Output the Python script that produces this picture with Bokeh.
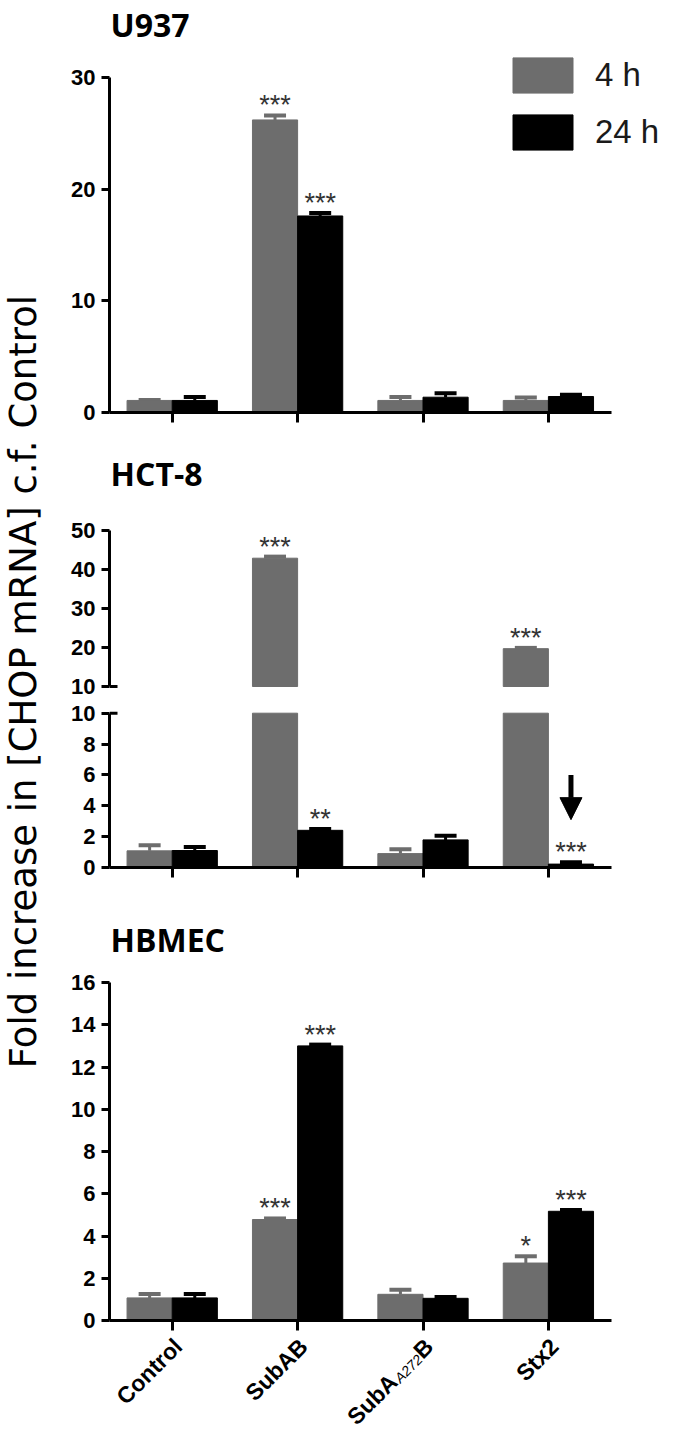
import numpy as np
from bokeh.plotting import figure
from bokeh.layouts import row, column
from bokeh.models import (ColumnDataSource, FixedTicker, Whisker, TeeHead, Legend,
                          LegendItem, Label, Arrow, NormalHead, Range1d)
from bokeh.core.properties import value
from bokeh.embed import file_html
from bokeh.resources import INLINE

# ---------------- data ----------------
categories = ["Control", "SubAB", "SubAA272B", "Stx2"]
mutant_label_parts = ["SubA", "A272", "B"]
series_names = ["4 h", "24 h"]
y_title = "Fold increase in [CHOP mRNA] c.f. Control"

u937_mean_4h = [1.08, 26.2, 1.08, 1.08]
u937_err_4h = [0.05, 0.40, 0.30, 0.27]
u937_mean_24h = [1.08, 17.6, 1.37, 1.43]
u937_err_24h = [0.30, 0.26, 0.36, 0.15]
u937_sig_4h = ["", "***", "", ""]
u937_sig_24h = ["", "***", "", ""]
u937_ticks = [0, 10, 20, 30]

hct8_mean_4h = [1.08, 42.9, 0.90, 19.7]
hct8_err_4h = [0.36, 0.40, 0.28, 0.20]
hct8_mean_24h = [1.10, 2.41, 1.79, 0.22]
hct8_err_24h = [0.23, 0.08, 0.26, 0.12]
hct8_sig_4h = ["", "***", "", "***"]
hct8_sig_24h = ["", "**", "", "***"]
hct8_upper_ticks = [10, 20, 30, 40, 50]
hct8_lower_ticks = [0, 2, 4, 6, 8, 10]

hbmec_mean_4h = [1.07, 4.78, 1.24, 2.72]
hbmec_err_4h = [0.19, 0.05, 0.22, 0.32]
hbmec_mean_24h = [1.07, 13.0, 1.05, 5.17]
hbmec_err_24h = [0.19, 0.06, 0.06, 0.06]
hbmec_sig_4h = ["", "***", "", "*"]
hbmec_sig_24h = ["", "***", "", "***"]
hbmec_ticks = [0, 2, 4, 6, 8, 10, 12, 14, 16]

# ---------------- style / layout constants ----------------
GRAY = "#6d6d6d"
BLACK = "#000000"
BAR_W = 0.36
DODGE = 0.18
PXU = 125.4                 # pixels per category unit
LEFT_FIG_W = 49
PANEL_W = 615
BORDER_L = 60
X_END = -0.5 + (PANEL_W - BORDER_L) / PXU
TICK_FONT = "Liberation Sans"
STAR_FONT = "Liberation Sans"
TITLE_FONT = "Open Sans"
STAR_GAP = 10               # px between error top and star baseline

idx = np.arange(len(categories), dtype=float)


def make_panel(height, y0, y1, ticks, ybounds, border_bottom, with_xaxis=True):
    p = figure(width=PANEL_W, height=height,
               x_range=Range1d(-0.5, X_END), y_range=Range1d(y0, y1),
               output_backend="svg", toolbar_location=None,
               x_axis_location="below" if with_xaxis else None,
               min_border_left=BORDER_L, min_border_right=0,
               min_border_top=0, min_border_bottom=border_bottom)
    p.outline_line_color = None
    p.grid.visible = False
    p.background_fill_color = "white"
    p.yaxis.ticker = FixedTicker(ticks=ticks)
    p.yaxis.bounds = ybounds
    p.yaxis.major_tick_out = 8
    p.yaxis.major_tick_in = 0
    p.yaxis.major_label_standoff = 6
    for ax in p.axis:
        ax.axis_line_width = 3
        ax.axis_line_color = "black"
        ax.major_tick_line_width = 3
        ax.major_tick_line_color = "black"
        ax.minor_tick_line_color = None
        ax.major_label_text_font = TICK_FONT
        ax.major_label_text_font_style = "bold"
        ax.major_label_text_font_size = "22px"
        ax.major_label_text_color = "black"
    if with_xaxis:
        p.xaxis.ticker = FixedTicker(ticks=list(idx))
        p.xaxis.bounds = (-0.5, 3.5)
        p.xaxis.major_tick_out = 10
        p.xaxis.major_tick_in = 0
        p.xaxis.major_label_overrides = {int(i): "" for i in idx}
        p.xaxis.major_label_text_font_size = "1px"
        p.xaxis.major_label_standoff = 0
    return p


def draw_series(p, scale, means, errs, sigs, offset, color, lo=0.0, hi=np.inf):
    m = np.asarray(means, float)
    e = np.asarray(errs, float)
    s = np.asarray(sigs)
    show = m > lo
    xs = idx + offset
    bars = ColumnDataSource(dict(x=xs[show], bottom=np.full(show.sum(), lo),
                                 top=np.minimum(m, hi)[show]))
    r = p.vbar(x="x", bottom="bottom", top="top", width=BAR_W, source=bars,
               fill_color=color, line_color=color, line_width=1)
    ends = show & (m <= hi)
    err_src = ColumnDataSource(dict(base=xs[ends], lower=m[ends], upper=(m + e)[ends]))
    p.add_layout(Whisker(base="base", lower="lower", upper="upper", source=err_src,
                         dimension="height", line_color=color, line_width=3,
                         lower_head=None,
                         upper_head=TeeHead(size=22, line_width=4, line_color=color)))
    star = ends & (s != "")
    star_src = ColumnDataSource(dict(x=xs[star], y=(m + e)[star] + STAR_GAP / scale,
                                     t=s[star]))
    p.text(x="x", y="y", text="t", source=star_src, text_align="center",
           text_baseline="alphabetic", text_font=value(STAR_FONT),
           text_font_size=value("27px"), text_color="#333333")
    return r


def add_title(p, text, y):
    p.add_layout(Label(x=-0.5, y=y, text=text, text_font=TITLE_FONT,
                       text_font_style="bold", text_font_size="32px",
                       text_align="left", text_baseline="alphabetic",
                       text_color="black", x_offset=1))


def break_mark(p):
    p.segment(x0=-0.5, y0=10, x1=-0.5 + 8 / PXU, y1=10, line_width=3, line_color="black")


# ---------------- U937 ----------------
S1 = 11.167
f1 = make_panel(442, 0, 412 / S1, u937_ticks, (0, 30), 30)
r4 = draw_series(f1, S1, u937_mean_4h, u937_err_4h, u937_sig_4h, -DODGE, GRAY)
r24 = draw_series(f1, S1, u937_mean_24h, u937_err_24h, u937_sig_24h, DODGE, BLACK)
add_title(f1, "U937", (420 - 32) / S1)
legend = Legend(items=[LegendItem(label=series_names[0], renderers=[r4]),
                       LegendItem(label=series_names[1], renderers=[r24])],
                location=(396, 258), orientation="vertical",
                glyph_width=75, glyph_height=44, label_height=44,
                label_standoff=15, spacing=13, padding=0, margin=0,
                border_line_color=None, background_fill_alpha=0,
                label_text_font="Liberation Sans", label_text_font_size="33px",
                label_text_color="#1a1a1a")
f1.add_layout(legend)

# ---------------- HCT-8 (broken axis) ----------------
S2 = 3.9
F2_BOTTOM = 708            # page y where upper panel ends
f2 = make_panel(F2_BOTTOM - 450, 10 - (F2_BOTTOM - 694) / S2, 10 + 244 / S2,
                hct8_upper_ticks, (10, 50), 0, with_xaxis=False)
draw_series(f2, S2, hct8_mean_4h, hct8_err_4h, hct8_sig_4h, -DODGE, GRAY, lo=10)
draw_series(f2, S2, hct8_mean_24h, hct8_err_24h, hct8_sig_24h, DODGE, BLACK, lo=10)
break_mark(f2)
add_title(f2, "HCT-8", 10 + (694 - 481) / S2)

S3 = 15.43
f3 = make_panel(875 - F2_BOTTOM + 30, 0, (875 - F2_BOTTOM) / S3, hct8_lower_ticks, (0, 10), 30)
draw_series(f3, S3, hct8_mean_4h, hct8_err_4h, hct8_sig_4h, -DODGE, GRAY, hi=10)
draw_series(f3, S3, hct8_mean_24h, hct8_err_24h, hct8_sig_24h, DODGE, BLACK, hi=10)
break_mark(f3)
f3.add_layout(Arrow(end=NormalHead(size=22, fill_color="black", line_color="black"),
                    x_start=idx[3] + DODGE, y_start=6.0, x_end=idx[3] + DODGE, y_end=3.1,
                    line_width=5, line_color="black"))

# ---------------- HBMEC ----------------
S4 = 21.125
HB_BOTTOM = 14
f4 = make_panel(423 + HB_BOTTOM, 0, 423 / S4, hbmec_ticks, (0, 16), HB_BOTTOM)
draw_series(f4, S4, hbmec_mean_4h, hbmec_err_4h, hbmec_sig_4h, -DODGE, GRAY)
draw_series(f4, S4, hbmec_mean_24h, hbmec_err_24h, hbmec_sig_24h, DODGE, BLACK)
add_title(f4, "HBMEC", (1328 - 947) / S4)

# ---------------- category labels (rotated, below HBMEC axis) ----------------
LAB_H = 1429 - (442 + (F2_BOTTOM - 450) + (875 - F2_BOTTOM + 30) + 423 + HB_BOTTOM)
f5 = figure(width=PANEL_W, height=LAB_H, x_range=Range1d(-0.5, X_END),
            y_range=Range1d(-(HB_BOTTOM + LAB_H), -HB_BOTTOM),   # pixels below axis line
            x_axis_location=None, y_axis_location=None,
            output_backend="svg", toolbar_location=None,
            min_border_left=BORDER_L, min_border_right=0, min_border_top=0, min_border_bottom=0)
f5.outline_line_color = None
f5.grid.visible = False
ANG = np.pi / 4
c, s_ = np.cos(ANG), np.sin(ANG)
AX = 6 / PXU          # anchor shift right of tick
AY = -22              # anchor depth below axis line (px)
FS = 23
plain = [i for i, t in enumerate(categories) if i != 2]
f5.text(x=[idx[i] + AX for i in plain], y=[AY] * len(plain),
        text=[categories[i] for i in plain], angle=ANG,
        text_align="right", text_baseline="middle",
        text_font=value(TICK_FONT), text_font_style="bold",
        text_font_size=value(f"{FS}px"), text_color="black")
wB = 0.722 * FS
wSub = 2.335 * 14
comp = [(mutant_label_parts[2], 0.0, 0.0, "bold", f"{FS}px"),
        (mutant_label_parts[1], wB, 4.0, "italic", "14px"),
        (mutant_label_parts[0], wB + wSub + 1, 0.0, "bold", f"{FS}px")]
for txt, back, down, style, size in comp:
    dx = -back * c + down * s_
    dy = -back * s_ - down * c
    f5.text(x=[idx[2] + AX + dx / PXU], y=[AY + dy], text=[txt], angle=ANG,
            text_align="right", text_baseline="middle",
            text_font=value(TICK_FONT), text_font_style=style,
            text_font_size=value(size), text_color="black")

# ---------------- shared y title ----------------
lab = figure(width=LEFT_FIG_W, height=1429, x_range=Range1d(0, LEFT_FIG_W),
             y_range=Range1d(0, 1429), x_axis_location=None, y_axis_location=None,
             toolbar_location=None, output_backend="svg", min_border=0)
lab.outline_line_color = None
lab.grid.visible = False
lab.add_layout(Label(x=23, y=1429 - 681, text=y_title, angle=np.pi / 2,
                     text_align="center", text_baseline="middle",
                     text_font="DejaVu Sans", text_font_size="37px", text_color="black"))

layout = row(lab, column(f1, f2, f3, f4, f5))
open("out.html", "w").write(file_html(layout, INLINE))
